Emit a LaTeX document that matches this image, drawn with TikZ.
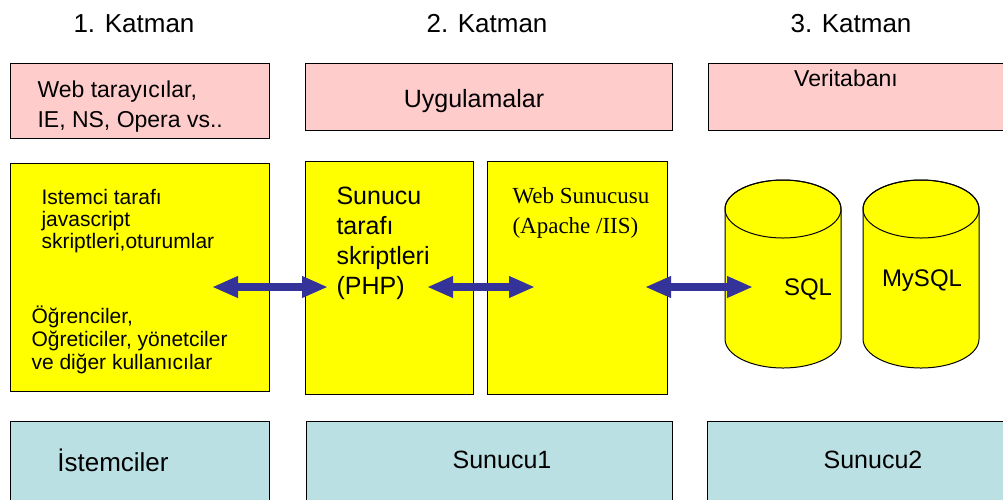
\documentclass[tikz,border=0pt]{standalone}
\usepackage{fontspec}
\setmainfont{Liberation Sans}
\newfontfamily\webserif{Liberation Serif}
\usetikzlibrary{arrows.meta,positioning,calc}
\newcommand{\txtsize}[2]{\fontsize{#1}{#2}\selectfont}
\definecolor{layerpink}{RGB}{255,204,204}
\definecolor{tieryellow}{RGB}{255,255,0}
\definecolor{hostcyan}{RGB}{187,224,227}
\definecolor{linkblue}{RGB}{51,51,153}

\tikzset{
    tierbox/.style={draw=black, line width=1.2pt, anchor=north west, inner sep=0pt},
    link/.style={linkblue, line width=8pt,
        {Triangle[length=26pt,width=20pt]}-{Triangle[length=26pt,width=20pt]}},
}

\begin{document}
\begin{tikzpicture}[x=1pt, y=-1pt]
    % Page frame (pixel coordinates, y downwards)
    \useasboundingbox (0,0) rectangle (1003,499);
    \clip (0,0) rectangle (1003,499);

    % Layer titles
    \node[font=\txtsize{26}{30}] (kat1) at (134,24) {1. Katman};
    \node[font=\txtsize{26}{30}] (kat2) at (487,24) {2. Katman};
    \node[font=\txtsize{26}{30}] (kat3) at (851,24) {3. Katman};

    % Pink row
    \node[tierbox, fill=layerpink, minimum width=259pt, minimum height=75pt] (browser) at (10,63) {};
    \node[tierbox, fill=layerpink, minimum width=367pt, minimum height=67pt] (apps) at (305,63) {};
    \node[tierbox, fill=layerpink, minimum width=310pt, minimum height=67pt] (dbhead) at (708,63) {};
    \node[anchor=west, align=left, font=\txtsize{23}{30}] (browsertxt) at (34,107) {Web tarayıcılar,\\IE, NS, Opera vs..};
    \node[font=\txtsize{25}{28}] (appstxt) at (474,101) {Uygulamalar};
    \node[font=\txtsize{23}{26}] (dbheadtxt) at (846,78) {Veritabanı};

    % Yellow row
    \node[tierbox, fill=tieryellow, minimum width=259pt, minimum height=228pt] (client) at (10,163) {};
    \node[tierbox, fill=tieryellow, minimum width=168pt, minimum height=233pt] (php) at (305,161) {};
    \node[tierbox, fill=tieryellow, minimum width=180pt, minimum height=233pt] (websrv) at (487,161) {};
    \node[anchor=west, align=left, font=\txtsize{21}{22}] (clienttop) at (38,221) {Istemci tarafı\\javascript\\skriptleri,oturumlar};
    \node[anchor=west, align=left, font=\txtsize{21}{23}] (clientbot) at (28,340) {Öğrenciler,\\Oğreticiler, yönetciler\\ve diğer kullanıcılar};
    \node[anchor=west, align=left, font=\txtsize{25}{30}] (phptxt) at (333,243) {Sunucu\\tarafı\\skriptleri\\(PHP)};
    \node[anchor=west, align=left, font=\webserif\txtsize{23}{30}] (websrvtxt) at (509,213) {Web Sunucusu\\(Apache /IIS)};

    % Database cylinders
    \foreach \cx in {783,921} {
        \filldraw[fill=tieryellow, draw=black, line width=1pt]
            (\cx-58,209) -- (\cx-58,339)
            arc[start angle=180, end angle=0, x radius=58, y radius=29]
            -- (\cx+58,209)
            arc[start angle=360, end angle=180, x radius=58, y radius=29] -- cycle;
        \draw[line width=1pt] (\cx,209) ellipse [x radius=58, y radius=29];
    }
    \node[font=\txtsize{24}{28}] (sqltxt) at (808,289) {SQL};
    \node[font=\txtsize{24}{28}] (mysqltxt) at (922,281) {MySQL};

    % Links
    \coordinate (clientin) at (212,287);
    \coordinate (phpin) at (328,287);
    \coordinate (phpout) at (427,287);
    \coordinate (websrvin) at (535,287);
    \coordinate (websrvout) at (645,287);
    \coordinate (sqlin) at (753,287);
    \draw[link] (clientin) -- (phpin);
    \draw[link] (phpout) -- (websrvin);
    \draw[link] (websrvout) -- (sqlin);

    % Cyan row
    \node[tierbox, fill=hostcyan, minimum width=259pt, minimum height=90pt] (clients) at (10,421) {};
    \node[tierbox, fill=hostcyan, minimum width=366pt, minimum height=90pt] (server1) at (306,421) {};
    \node[tierbox, fill=hostcyan, minimum width=310pt, minimum height=90pt] (server2) at (707,421) {};
    \node[font=\txtsize{26}{30}] (clientstxt) at (113,460) {İstemciler};
    \node[font=\txtsize{25}{30}] (server1txt) at (502,460) {Sunucu1};
    \node[font=\txtsize{25}{30}] (server2txt) at (873,460) {Sunucu2};
\end{tikzpicture}
\end{document}
